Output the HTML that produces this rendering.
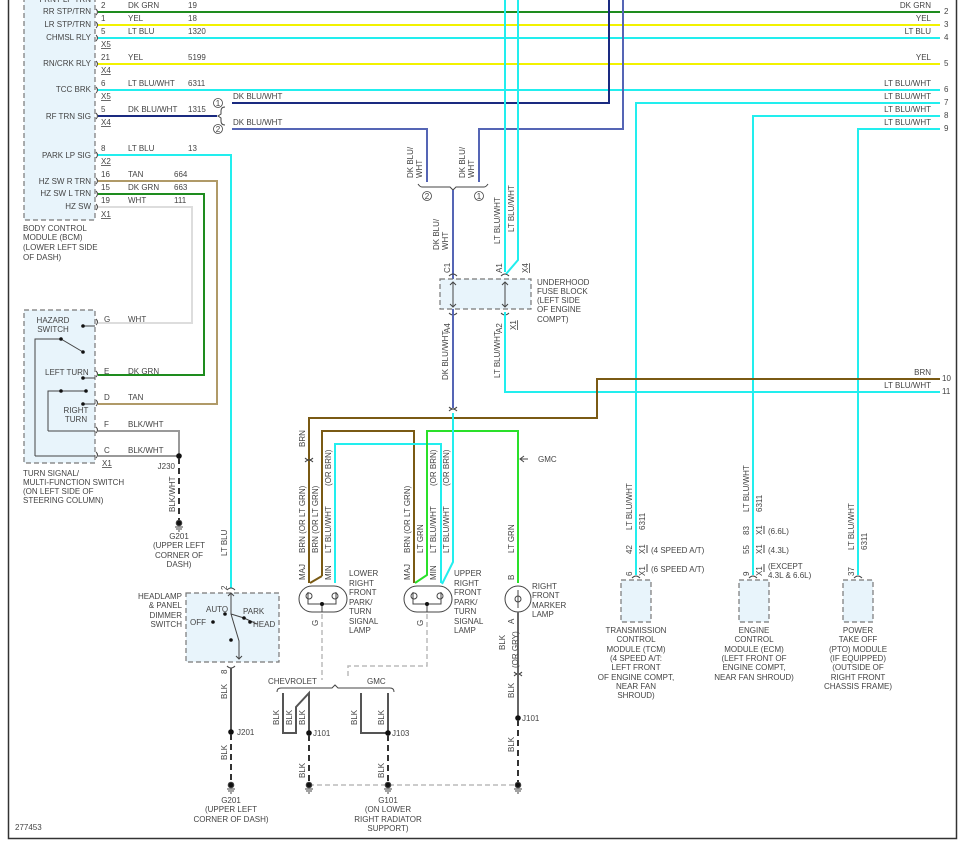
<!DOCTYPE html>
<html><head><meta charset="utf-8"><style>
html,body{margin:0;padding:0;background:#fff}
svg{display:block}
text{font-family:"Liberation Sans",sans-serif;font-size:8px;fill:#444}
.r{text-anchor:end}.m{text-anchor:middle}
.box{fill:#e8f4fb;stroke:#777;stroke-width:1.2;stroke-dasharray:5 3}
.w{fill:none;stroke-width:2}
.t{fill:none;stroke:#444;stroke-width:1}
</style></head><body>
<svg width="960" height="849" viewBox="0 0 960 849" xmlns="http://www.w3.org/2000/svg">
<rect x="0" y="0" width="960" height="849" fill="#fff"/>
<path d="M8.5 0V838.5H956.5V0" fill="none" stroke="#333" stroke-width="1.5"/>

<!-- BCM -->
<rect class="box" x="24" y="-4" width="71" height="224"/>
<g>
<text class="r" x="91" y="2">FRNT LP TRN</text>
<text class="r" x="91" y="14">RR STP/TRN</text>
<text class="r" x="91" y="27">LR STP/TRN</text>
<text class="r" x="91" y="40">CHMSL RLY</text>
<text class="r" x="91" y="66">RN/CRK RLY</text>
<text class="r" x="91" y="92">TCC BRK</text>
<text class="r" x="91" y="119">RF TRN SIG</text>
<text class="r" x="91" y="158">PARK LP SIG</text>
<text class="r" x="91" y="184">HZ SW R TRN</text>
<text class="r" x="91" y="196">HZ SW L TRN</text>
<text class="r" x="91" y="209">HZ SW</text>
<text x="23" y="231">BODY CONTROL</text>
<text x="23" y="240">MODULE (BCM)</text>
<text x="23" y="250">(LOWER LEFT SIDE</text>
<text x="23" y="260">OF DASH)</text>
</g>
<g>
<text x="101" y="8">2</text><text x="128" y="8">DK GRN</text><text x="188" y="8">19</text>
<text x="101" y="21">1</text><text x="128" y="21">YEL</text><text x="188" y="21">18</text>
<text x="101" y="34">5</text><text x="128" y="34">LT BLU</text><text x="188" y="34">1320</text>
<text x="101" y="47" text-decoration="underline">X5</text>
<text x="101" y="60">21</text><text x="128" y="60">YEL</text><text x="188" y="60">5199</text>
<text x="101" y="73" text-decoration="underline">X4</text>
<text x="101" y="86">6</text><text x="128" y="86">LT BLU/WHT</text><text x="188" y="86">6311</text>
<text x="101" y="99" text-decoration="underline">X5</text>
<text x="101" y="112">5</text><text x="128" y="112">DK BLU/WHT</text><text x="188" y="112">1315</text>
<text x="101" y="125" text-decoration="underline">X4</text>
<text x="101" y="151">8</text><text x="128" y="151">LT BLU</text><text x="188" y="151">13</text>
<text x="101" y="164" text-decoration="underline">X2</text>
<text x="101" y="177">16</text><text x="128" y="177">TAN</text><text x="174" y="177">664</text>
<text x="101" y="190">15</text><text x="128" y="190">DK GRN</text><text x="174" y="190">663</text>
<text x="101" y="203">19</text><text x="128" y="203">WHT</text><text x="174" y="203">111</text>
<text x="101" y="217" text-decoration="underline">X1</text>
</g>
<g class="t">
<path d="M96 9q3 3 0 6M96 22q3 3 0 6M96 35q3 3 0 6M96 61q3 3 0 6M96 87q3 3 0 6M96 113q3 3 0 6M96 152q3 3 0 6M96 178q3 3 0 6M96 191q3 3 0 6M96 204q3 3 0 6"/>
</g>

<path class="w" stroke="#1e8c1e" d="M98 12H940"/>
<path class="w" stroke="#f2f200" d="M98 25H940"/>
<path class="w" stroke="#22eeee" d="M98 38H940"/>
<path class="w" stroke="#f2f200" d="M98 64H940"/>
<path class="w" stroke="#22eeee" d="M98 90H940"/>
<path class="w" stroke="#22eeee" d="M940 103H636V575"/>
<path class="w" stroke="#22eeee" d="M940 116H753V575"/>
<path class="w" stroke="#22eeee" d="M940 129H858V575"/>
<g>
<text class="r" x="931" y="8">DK GRN</text>
<text class="r" x="931" y="21">YEL</text>
<text class="r" x="931" y="34">LT BLU</text>
<text class="r" x="931" y="60">YEL</text>
<text class="r" x="931" y="86">LT BLU/WHT</text>
<text class="r" x="931" y="99">LT BLU/WHT</text>
<text class="r" x="931" y="112">LT BLU/WHT</text>
<text class="r" x="931" y="125">LT BLU/WHT</text>
<text class="r" x="931" y="375">BRN</text>
<text class="r" x="931" y="388">LT BLU/WHT</text>
<text x="944" y="14">2</text><text x="944" y="27">3</text><text x="944" y="40">4</text><text x="944" y="66">5</text>
<text x="944" y="92">6</text><text x="944" y="105">7</text><text x="944" y="118">8</text><text x="944" y="131">9</text>
<text x="942" y="381">10</text><text x="942" y="394">11</text>
</g>

<path class="w" stroke="#1a2a80" d="M98 116H217"/>
<path class="t" d="M225 107q-4 0-4 4v3l-3 2l3 2v3q0 4 4 4"/>
<circle cx="218" cy="103" r="4.5" fill="#fff" stroke="#444" stroke-width="0.8"/><text class="m" x="218" y="106">1</text>
<circle cx="218" cy="129" r="4.5" fill="#fff" stroke="#444" stroke-width="0.8"/><text class="m" x="218" y="132">2</text>
<text x="233" y="99">DK BLU/WHT</text><text x="233" y="125">DK BLU/WHT</text>
<path class="w" stroke="#1a2a80" d="M232 103H609V0"/>
<path class="w" stroke="#5565b5" d="M232 129H427V182"/>
<path class="w" stroke="#5565b5" d="M623 0V129H479V182"/>
<path class="t" d="M418 184q2 3 4 3H450l3 3l3-3H484q2 0 4-3"/>
<circle cx="427" cy="196" r="4.5" fill="#fff" stroke="#444" stroke-width="0.8"/><text class="m" x="427" y="199">2</text>
<circle cx="479" cy="196" r="4.5" fill="#fff" stroke="#444" stroke-width="0.8"/><text class="m" x="479" y="199">1</text>
<text transform="translate(413,178) rotate(-90)">DK BLU/</text><text transform="translate(422,178) rotate(-90)">WHT</text>
<text transform="translate(465,178) rotate(-90)">DK BLU/</text><text transform="translate(474,178) rotate(-90)">WHT</text>
<path class="w" stroke="#5565b5" d="M453 190V408"/>
<text transform="translate(439,250) rotate(-90)">DK BLU/</text><text transform="translate(448,250) rotate(-90)">WHT</text>

<path class="w" stroke="#22eeee" d="M505 0V272"/>
<path class="w" stroke="#22eeee" d="M518 0V260L506 274"/>
<text transform="translate(500,244) rotate(-90)">LT BLU/WHT</text>
<text transform="translate(514,232) rotate(-90)">LT BLU/WHT</text>

<rect class="box" x="440" y="279" width="91" height="30"/>
<path class="t" d="M453 282V307M450 285l3-3 3 3M450 304l3 3 3-3M505 282V307M502 285l3-3 3 3M502 304l3 3 3-3"/>
<path class="t" d="M449 276q4-4 8 0M501 276q4-4 8 0M449 313q4 4 8 0M501 313q4 4 8 0"/>
<text transform="translate(450,273) rotate(-90)">C1</text>
<text transform="translate(502,273) rotate(-90)">A1</text>
<text transform="translate(528,273) rotate(-90)" text-decoration="underline">X4</text>
<text transform="translate(450,333) rotate(-90)">A4</text>
<text transform="translate(502,333) rotate(-90)">A2</text>
<text transform="translate(516,330) rotate(-90)" text-decoration="underline">X1</text>
<text x="537" y="285">UNDERHOOD</text><text x="537" y="294">FUSE BLOCK</text><text x="537" y="303">(LEFT SIDE</text><text x="537" y="312">OF ENGINE</text><text x="537" y="322">COMPT)</text>
<path class="w" stroke="#5565b5" d="M453 310V405"/>
<text transform="translate(448,380) rotate(-90)">DK BLU/WHT</text>
<path class="w" stroke="#22eeee" d="M505 312V392H940"/>
<text transform="translate(500,378) rotate(-90)">LT BLU/WHT</text>
<path class="t" d="M449 407q4 4 8 0M449 411q4-4 8 0"/>

<path class="w" stroke="#7a5a14" d="M940 379H597V418H309V583"/>
<path class="w" stroke="#7a5a14" d="M322 576V431H414V583M322 576L310 583"/>
<path class="w" stroke="#22eeee" d="M335 583V444H441V583"/>
<path class="w" stroke="#2ae02a" d="M518 583V431H427V575L415 583"/>
<path class="w" stroke="#22eeee" d="M453 413V562L442 584"/>
<path class="t" d="M305 458q4 4 8 0M305 462q4-4 8 0M514 672q4 4 8 0M514 676q4-4 8 0"/>
<path class="t" d="M520 459h8M524 456l-4 3 4 3"/><text x="538" y="462">GMC</text>
<text transform="translate(305,447) rotate(-90)">BRN</text>
<text transform="translate(305,553) rotate(-90)">BRN (OR LT GRN)</text>
<text transform="translate(318,553) rotate(-90)">BRN (OR LT GRN)</text>
<text transform="translate(331,553) rotate(-90)">LT BLU/WHT</text>
<text transform="translate(331,486) rotate(-90)">(OR BRN)</text>
<text transform="translate(410,553) rotate(-90)">BRN (OR LT GRN)</text>
<text transform="translate(423,553) rotate(-90)">LT GRN</text>
<text transform="translate(436,553) rotate(-90)">LT BLU/WHT</text>
<text transform="translate(436,486) rotate(-90)">(OR BRN)</text>
<text transform="translate(449,553) rotate(-90)">LT BLU/WHT</text>
<text transform="translate(449,486) rotate(-90)">(OR BRN)</text>
<text transform="translate(514,553) rotate(-90)">LT GRN</text>
<text transform="translate(305,580) rotate(-90)">MAJ</text>
<text transform="translate(331,580) rotate(-90)">MIN</text>
<text transform="translate(410,580) rotate(-90)">MAJ</text>
<text transform="translate(436,580) rotate(-90)">MIN</text>
<text transform="translate(514,580) rotate(-90)">B</text>
<text transform="translate(514,624) rotate(-90)">A</text>
<text transform="translate(318,626) rotate(-90)">G</text>
<text transform="translate(423,626) rotate(-90)">G</text>
<g fill="none" stroke="#444" stroke-width="1">
<rect x="299" y="586" width="48" height="26" rx="13"/>
<rect x="404" y="586" width="48" height="26" rx="13"/>
<circle cx="518" cy="599" r="13"/>
<path d="M308 592v12h28v-12M322 604v8M413 592v12h28v-12M427 604v8M518 590v18"/>
<circle cx="309" cy="596" r="3"/><circle cx="335" cy="596" r="3"/><circle cx="414" cy="596" r="3"/><circle cx="440" cy="596" r="3"/><circle cx="518" cy="599" r="3"/>
</g>
<circle cx="322" cy="604" r="2" fill="#111"/><circle cx="427" cy="604" r="2" fill="#111"/>
<text x="349" y="576">LOWER</text><text x="349" y="586">RIGHT</text><text x="349" y="595">FRONT</text><text x="349" y="605">PARK/</text><text x="349" y="614">TURN</text><text x="349" y="624">SIGNAL</text><text x="349" y="633">LAMP</text>
<text x="454" y="576">UPPER</text><text x="454" y="586">RIGHT</text><text x="454" y="595">FRONT</text><text x="454" y="605">PARK/</text><text x="454" y="614">TURN</text><text x="454" y="624">SIGNAL</text><text x="454" y="633">LAMP</text>
<text x="532" y="589">RIGHT</text><text x="532" y="598">FRONT</text><text x="532" y="608">MARKER</text><text x="532" y="617">LAMP</text>
<path class="w" stroke="#666" d="M518 612V718"/>
<text transform="translate(505,650) rotate(-90)">BLK</text>
<text transform="translate(518,668) rotate(-90)">(OR GRY)</text>
<text transform="translate(514,698) rotate(-90)">BLK</text>
<circle cx="518" cy="718" r="2.8" fill="#111"/><text x="522" y="721">J101</text>
<path class="w" stroke="#333" stroke-dasharray="6 4" d="M518 720V782"/>
<text transform="translate(514,752) rotate(-90)">BLK</text>

<path fill="none" stroke="#bbb" stroke-width="1.5" stroke-dasharray="5 3" d="M322 614V680M427 614V666H348V678M309 785H518"/>
<path class="t" d="M277 692q0-4 4-4H332l3-3l3 3H390q4 0 4 4"/>
<text x="268" y="684">CHEVROLET</text><text x="367" y="684">GMC</text>
<path class="w" stroke="#555" stroke-width="1.5" d="M283 693V733H296V707L309 693V733M361 693V733H388V693"/>
<text transform="translate(279,725) rotate(-90)">BLK</text><text transform="translate(292,725) rotate(-90)">BLK</text><text transform="translate(305,725) rotate(-90)">BLK</text>
<text transform="translate(357,725) rotate(-90)">BLK</text><text transform="translate(384,725) rotate(-90)">BLK</text>
<circle cx="309" cy="733" r="2.8" fill="#111"/><text x="313" y="736">J101</text>
<circle cx="388" cy="733" r="2.8" fill="#111"/><text x="392" y="736">J103</text>
<path class="w" stroke="#333" stroke-dasharray="6 4" d="M309 735V782M388 735V782"/>
<text transform="translate(305,778) rotate(-90)">BLK</text><text transform="translate(384,778) rotate(-90)">BLK</text>

<g fill="#111" stroke="#444" stroke-width="1">
<circle cx="179" cy="523" r="2.8"/><path d="M175 527h8M176 529h6M178 531h2"/>
<circle cx="231" cy="785" r="2.8"/><path d="M227 789h8M228 791h6M230 793h2"/>
<circle cx="309" cy="785" r="2.8"/><path d="M305 789h8M306 791h6M308 793h2"/>
<circle cx="388" cy="785" r="2.8"/><path d="M384 789h8M385 791h6M387 793h2"/>
<circle cx="518" cy="785" r="2.8"/><path d="M514 789h8M515 791h6M517 793h2"/>
</g>
<text class="m" x="231" y="803">G201</text><text class="m" x="231" y="812">(UPPER LEFT</text><text class="m" x="231" y="822">CORNER OF DASH)</text>
<text class="m" x="388" y="803">G101</text><text class="m" x="388" y="812">(ON LOWER</text><text class="m" x="388" y="822">RIGHT RADIATOR</text><text class="m" x="388" y="831">SUPPORT)</text>
<text x="15" y="830">277453</text>

<rect class="box" x="24" y="310" width="71" height="153"/>
<path class="w" stroke="#ddd" d="M98 323H192V207H98"/>
<path class="w" stroke="#1e8c1e" d="M98 375H204V194H98"/>
<path class="w" stroke="#b09a68" d="M98 404H217V181H98"/>
<path class="w" stroke="#999" d="M98 431H179V456H98"/>
<circle cx="179" cy="456" r="2.8" fill="#111"/>
<path class="w" stroke="#333" stroke-dasharray="6 4" d="M179 458V520"/>
<text class="r" x="175" y="469">J230</text>
<text transform="translate(175,512) rotate(-90)">BLK/WHT</text>
<text class="m" x="179" y="539">G201</text><text class="m" x="179" y="548">(UPPER LEFT</text><text class="m" x="179" y="558">CORNER OF</text><text class="m" x="179" y="567">DASH)</text>
<text x="104" y="322">G</text><text x="128" y="322">WHT</text>
<text x="104" y="374">E</text><text x="128" y="374">DK GRN</text>
<text x="104" y="400">D</text><text x="128" y="400">TAN</text>
<text x="104" y="427">F</text><text x="128" y="427">BLK/WHT</text>
<text x="104" y="453">C</text><text x="128" y="453">BLK/WHT</text>
<text x="102" y="466" text-decoration="underline">X1</text>
<g class="t">
<path d="M96 319q3 3 0 6M96 371q3 3 0 6M96 400q3 3 0 6M96 427q3 3 0 6M96 452q3 3 0 6"/>
<path d="M83 326H95M83 378H95M83 404H95M48 431H95M35 456H95M35 456V339H61L83 352M48 431V391H87"/>
</g>
<g fill="#111"><circle cx="83" cy="326" r="1.8"/><circle cx="61" cy="339" r="1.8"/><circle cx="83" cy="352" r="1.8"/><circle cx="83" cy="378" r="1.8"/><circle cx="61" cy="391" r="1.8"/><circle cx="86" cy="391" r="1.8"/><circle cx="83" cy="404" r="1.8"/></g>
<text class="m" x="53" y="323">HAZARD</text><text class="m" x="53" y="332">SWITCH</text>
<text x="45" y="375">LEFT TURN</text>
<text class="m" x="76" y="413">RIGHT</text><text class="m" x="76" y="422">TURN</text>
<text x="23" y="476">TURN SIGNAL/</text><text x="23" y="485">MULTI-FUNCTION SWITCH</text><text x="23" y="494">(ON LEFT SIDE OF</text><text x="23" y="503">STEERING COLUMN)</text>

<path class="w" stroke="#22eeee" d="M98 155H231V588"/>
<text transform="translate(227,556) rotate(-90)">LT BLU</text>
<text transform="translate(227,590) rotate(-90)">2</text>
<rect class="box" x="186" y="593" width="93" height="69"/>
<path class="t" d="M227 590q4-4 8 0M227 666q4 4 8 0M231 593V614L244 618L257 624M231 614L239 641L239 659M236 656l3 3 3-3M228 596l3-3 3 3"/>
<g fill="#111"><circle cx="225" cy="614" r="1.8"/><circle cx="244" cy="618" r="1.8"/><circle cx="250" cy="622" r="1.8"/><circle cx="213" cy="622" r="1.8"/><circle cx="231" cy="640" r="1.8"/></g>
<text x="206" y="612">AUTO</text><text x="243" y="614">PARK</text><text x="190" y="625">OFF</text><text x="253" y="627">HEAD</text>
<text class="r" x="182" y="599">HEADLAMP</text><text class="r" x="182" y="608">&amp; PANEL</text><text class="r" x="182" y="618">DIMMER</text><text class="r" x="182" y="627">SWITCH</text>
<path class="w" stroke="#555" d="M231 668V732"/>
<text transform="translate(227,674) rotate(-90)">8</text>
<text transform="translate(227,699) rotate(-90)">BLK</text>
<circle cx="231" cy="732" r="2.8" fill="#111"/><text x="237" y="735">J201</text>
<path class="w" stroke="#333" stroke-dasharray="6 4" d="M231 734V782"/>
<text transform="translate(227,760) rotate(-90)">BLK</text>

<rect class="box" x="621" y="580" width="30" height="42"/>
<rect class="box" x="739" y="580" width="30" height="42"/>
<rect class="box" x="843" y="580" width="30" height="42"/>
<path class="t" d="M632 578q4-4 8 0M749 578q4-4 8 0M854 578q4-4 8 0M647 545v8M647 564v8M764 526v8M764 545v8M764 564v8"/>
<text transform="translate(632,530) rotate(-90)">LT BLU/WHT</text><text transform="translate(645,530) rotate(-90)">6311</text>
<text transform="translate(632,554) rotate(-90)">42</text><text transform="translate(645,554) rotate(-90)">X1</text><text x="651" y="553">(4 SPEED A/T)</text>
<text transform="translate(632,576) rotate(-90)">6</text><text transform="translate(645,576) rotate(-90)">X1</text><text x="651" y="572">(6 SPEED A/T)</text>
<text transform="translate(749,512) rotate(-90)">LT BLU/WHT</text><text transform="translate(762,512) rotate(-90)">6311</text>
<text transform="translate(749,535) rotate(-90)">83</text><text transform="translate(762,535) rotate(-90)">X1</text><text x="768" y="534">(6.6L)</text>
<text transform="translate(749,554) rotate(-90)">55</text><text transform="translate(762,554) rotate(-90)">X1</text><text x="768" y="553">(4.3L)</text>
<text transform="translate(749,576) rotate(-90)">9</text><text transform="translate(762,576) rotate(-90)">X1</text><text x="768" y="569">(EXCEPT</text><text x="768" y="578">4.3L &amp; 6.6L)</text>
<text transform="translate(854,550) rotate(-90)">LT BLU/WHT</text><text transform="translate(867,550) rotate(-90)">6311</text>
<text transform="translate(854,576) rotate(-90)">37</text>
<g class="m">
<text x="636" y="633">TRANSMISSION</text><text x="636" y="642">CONTROL</text><text x="636" y="652">MODULE (TCM)</text><text x="636" y="661">(4 SPEED A/T:</text><text x="636" y="670">LEFT FRONT</text><text x="636" y="680">OF ENGINE COMPT,</text><text x="636" y="689">NEAR FAN</text><text x="636" y="698">SHROUD)</text>
<text x="754" y="633">ENGINE</text><text x="754" y="642">CONTROL</text><text x="754" y="652">MODULE (ECM)</text><text x="754" y="661">(LEFT FRONT OF</text><text x="754" y="670">ENGINE COMPT,</text><text x="754" y="680">NEAR FAN SHROUD)</text>
<text x="858" y="633">POWER</text><text x="858" y="642">TAKE OFF</text><text x="858" y="652">(PTO) MODULE</text><text x="858" y="661">(IF EQUIPPED)</text><text x="858" y="670">(OUTSIDE OF</text><text x="858" y="680">RIGHT FRONT</text><text x="858" y="689">CHASSIS FRAME)</text>
</g>
</svg>
</body></html>
